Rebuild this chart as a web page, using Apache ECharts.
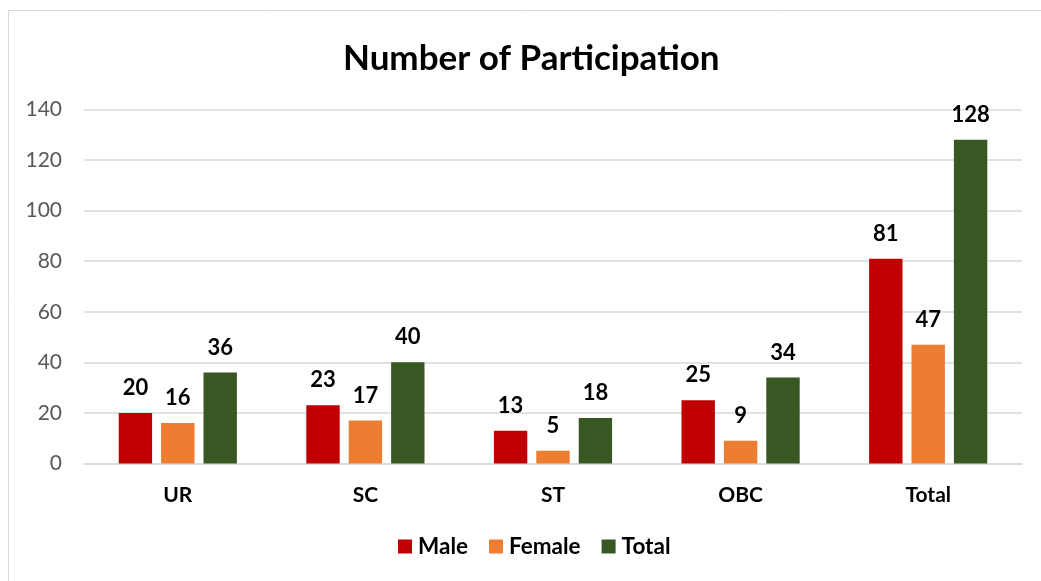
<!DOCTYPE html>
<html>
<head>
<meta charset="utf-8">
<script src="https://cdn.jsdelivr.net/npm/echarts@6/dist/echarts.min.js"></script>
<style>
html,body{margin:0;padding:0;background:#fff;}
#c{width:1041px;height:581px;}
</style>
</head>
<body>
<div id="c"></div>
<script>
const categories = ['UR', 'SC', 'ST', 'OBC', 'Total'];
const male = [20, 23, 13, 25, 81];
const female = [16, 17, 5, 9, 47];
const total = [36, 40, 18, 34, 128];
const yTicks = [0, 20, 40, 60, 80, 100, 120, 140];

const FONT = 'Lato, "Open Sans", sans-serif';
const chart = echarts.init(document.getElementById('c'));
const lbl = {show: true, position: 'top', distance: 14, color: '#000', fontWeight: 'bold', fontSize: 22, fontFamily: FONT};
chart.setOption({
  animation: false,
  title: {text: 'Number of Participation', left: 338, top: 36,
    textStyle: {fontSize: 35, fontWeight: 'bold', color: '#000', fontFamily: FONT}},
  graphic: [{type: 'rect', shape: {x: 8.5, y: 10.5, width: 1100, height: 700},
    style: {fill: 'none', stroke: '#d9d9d9', lineWidth: 1}, z: -1}],
  legend: {bottom: 18, left: 393, itemWidth: 14, itemHeight: 14, itemGap: 21,
    icon: 'rect',
    textStyle: {fontSize: 22.5, fontWeight: 'bold', color: '#000', fontFamily: FONT, padding: [0,0,0,1]}},
  grid: {left: 84, right: 19, top: 109.5, bottom: 117.5},
  xAxis: {type: 'category', data: categories,
    axisLine: {lineStyle: {color: '#d9d9d9', width: 1.5}}, axisTick: {show: false},
    axisLabel: {fontSize: 21, fontWeight: 'bold', color: '#000', fontFamily: FONT, margin: 21}},
  yAxis: {type: 'value', min: yTicks[0], max: yTicks[yTicks.length-1], interval: 20,
    axisLine: {show: false}, axisTick: {show: false},
    splitLine: {lineStyle: {color: '#d9d9d9', width: 1.5}},
    axisLabel: {fontSize: 21, color: '#595959', fontFamily: FONT, margin: 22}},
  series: [
    {name: 'Male', type: 'bar', data: male, itemStyle: {color: '#C00000'}, label: lbl,
      barGap: '27%', barCategoryGap: '37%'},
    {name: 'Female', type: 'bar', data: female, itemStyle: {color: '#ED7D31'}, label: lbl},
    {name: 'Total', type: 'bar', data: total, itemStyle: {color: '#385723'}, label: lbl}
  ]
});
</script>
</body>
</html>
